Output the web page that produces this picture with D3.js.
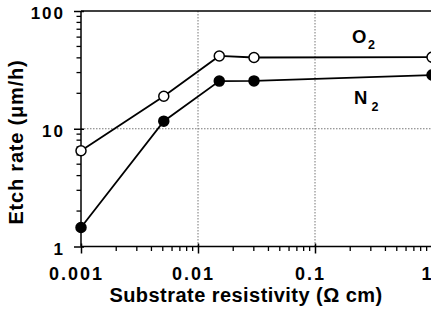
<!DOCTYPE html>
<html><head><meta charset="utf-8">
<script src="https://cdn.jsdelivr.net/npm/d3@7"></script>
<style>html,body{margin:0;padding:0;background:#fff;overflow:hidden}</style>
</head><body>
<svg id="c" width="431" height="309"></svg>
<script>
const resistivity = [0.001, 0.0051, 0.0152, 0.0301, 1.0];
const o2Rate = [6.5, 18.9, 41.5, 40.3, 40.5];
const n2Rate = [1.45, 11.6, 25.4, 25.5, 28.6];
const xTickValues = [0.001, 0.01, 0.1, 1];
const xTickLabels = ["0.001", "0.01", "0.1", "1"];
const yTickValues = [1, 10, 100];
const yTickLabels = ["1", "10", "100"];

const svg = d3.select("#c");
const font = "'Liberation Sans', Arial, sans-serif";
const x = d3.scaleLog().domain([0.001, 1]).range([81, 432]);
const y = d3.scaleLog().domain([1, 100]).range([246.5, 11]);

// grid (dotted)
const grid = svg.append("g").attr("stroke", "#777").attr("stroke-width", 1).attr("stroke-dasharray", "1.5,1.5");
[0.01, 0.1].forEach(v => grid.append("line").attr("x1", x(v)).attr("x2", x(v)).attr("y1", y(100)).attr("y2", y(1)));
grid.append("line").attr("x1", x(0.001)).attr("x2", x(1)).attr("y1", y(10)).attr("y2", y(10));

// top border
svg.append("line").attr("x1", x(0.001)).attr("x2", x(1)).attr("y1", y(100)).attr("y2", y(100)).attr("stroke", "#000").attr("stroke-width", 1.5);

// minor tick values
const minors = [];
[0.001, 0.01, 0.1].forEach(d => { for (let k = 2; k <= 9; k++) minors.push(d * k); });
const yMinors = [];
[1, 10].forEach(d => { for (let k = 2; k <= 9; k++) yMinors.push(d * k); });

// x axis
const xAxis = svg.append("g").attr("transform", `translate(0,${y(1)})`)
  .call(d3.axisBottom(x).tickValues(xTickValues).tickFormat((d, i) => xTickLabels[i]).tickSize(7).tickPadding(13.7));
xAxis.select(".domain").attr("stroke-width", 1.5).attr("d", `M${x(0.001)},0H${x(1)}`);
xAxis.selectAll(".tick line").attr("stroke-width", 1.5).attr("y1", -3);
xAxis.selectAll(".tick text").attr("font-family", font).attr("font-weight", "bold").attr("font-size", 18)
  .attr("letter-spacing", 2).attr("dx", -5).attr("fill", "#000");
xAxis.append("g").selectAll("line").data(minors).join("line")
  .attr("x1", d => x(d)).attr("x2", d => x(d)).attr("y1", 0).attr("y2", 4.5).attr("stroke", "#000").attr("stroke-width", 1.3);

// y axis
const yAxis = svg.append("g").attr("transform", `translate(${x(0.001)},0)`)
  .call(d3.axisLeft(y).tickValues(yTickValues).tickFormat((d, i) => yTickLabels[i]).tickSize(7).tickPadding(9));
yAxis.select(".domain").attr("stroke-width", 1.5).attr("d", `M0,${y(1)}V${y(100)}`);
yAxis.selectAll(".tick line").attr("stroke-width", 1.5).attr("x1", 3);
yAxis.selectAll(".tick text").attr("font-family", font).attr("font-weight", "bold").attr("font-size", 17)
  .attr("letter-spacing", 2).attr("y", 2.5).attr("fill", "#000");
yAxis.append("g").selectAll("line").data(yMinors).join("line")
  .attr("x1", 0).attr("x2", -4.5).attr("y1", d => y(d)).attr("y2", d => y(d)).attr("stroke", "#000").attr("stroke-width", 1.3);

// series
const line = d3.line().x(d => x(d[0])).y(d => y(d[1]));
const series = [
  { vals: o2Rate, fill: "#fff" },
  { vals: n2Rate, fill: "#000" }
];
series.forEach(s => {
  const pts = resistivity.map((r, i) => [r, s.vals[i]]);
  svg.append("path").datum(pts).attr("d", line).attr("fill", "none").attr("stroke", "#000").attr("stroke-width", 1.8);
  svg.append("g").selectAll("circle").data(pts).join("circle")
    .attr("cx", d => x(d[0])).attr("cy", d => y(d[1])).attr("r", 5)
    .attr("fill", s.fill).attr("stroke", "#000").attr("stroke-width", 1.5);
});

// series labels
function gasLabel(txt, px, py, gap) {
  const t = svg.append("text").attr("x", px).attr("y", py).attr("font-family", font).attr("font-weight", "bold").attr("font-size", 18.5).attr("fill", "#000");
  t.append("tspan").text(txt);
  t.append("tspan").attr("dx", gap).attr("dy", 6.5).attr("font-size", 12.5).text("2");
}
gasLabel("O", 352, 42.7, 1.5);
gasLabel("N", 354, 104, 4);

// axis titles
svg.append("text").attr("x", 246).attr("y", 302).attr("text-anchor", "middle")
  .attr("font-family", font).attr("font-weight", "bold").attr("font-size", 20).attr("letter-spacing", 0.45).attr("fill", "#000")
  .text("Substrate resistivity (Ω cm)");
svg.append("text").attr("transform", "translate(23,142) rotate(-90)").attr("text-anchor", "middle")
  .attr("font-family", font).attr("font-weight", "bold").attr("font-size", 20).attr("letter-spacing", 0.8).attr("fill", "#000")
  .text("Etch rate  (μm/h)");
</script>
</body></html>
